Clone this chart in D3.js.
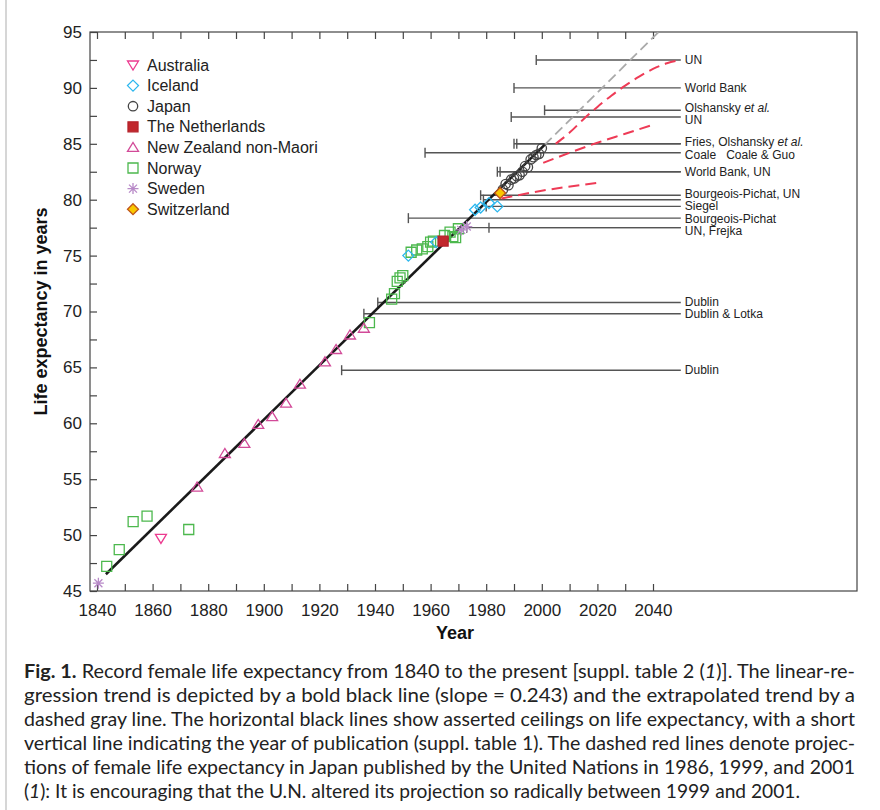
<!DOCTYPE html>
<html>
<head>
<meta charset="utf-8">
<script src="https://cdn.jsdelivr.net/npm/d3@7"></script>
<style>
  body { margin: 0; background: #fff; }
  svg { display: block; }
</style>
</head>
<body>
<div id="grafico"></div>
<script>

// ---- dados (ano, expectativa de vida) ----
const australia = [[1863, 49.7]]
const iceland = [[1952, 75.0], [1962, 76.2], [1976, 79.1], [1978, 79.3], [1981, 79.7], [1984, 79.4]]
const japan = [[1986, 80.9], [1987, 81.4], [1988, 81.3], [1989, 81.8], [1990, 81.9], [1991, 82.1],
               [1992, 82.2], [1993, 82.5], [1994, 83.0], [1995, 82.9], [1996, 83.6], [1997, 83.8],
               [1998, 84.0], [1999, 84.1], [2000, 84.6]]
const netherlands = [[1964.5, 76.3]]
const newZealand = [[1876, 54.3], [1886, 57.3], [1893, 58.2], [1898, 59.9], [1903, 60.6], [1908, 61.8],
                    [1913, 63.5], [1922, 65.5], [1926, 66.6], [1931, 67.9], [1936, 68.5]]
const norway = [[1843.5, 47.2], [1848, 48.7], [1853, 51.2], [1858, 51.7], [1873, 50.5], [1938, 69.0],
                [1946, 71.1], [1947, 71.6], [1948, 72.7], [1949, 73.0], [1950, 73.2],
                [1953, 75.3], [1955, 75.5], [1957, 75.6], [1959, 75.8], [1960, 76.2], [1961, 76.3],
                [1965, 76.8], [1967, 77.1], [1968, 76.7], [1969, 76.6], [1970, 77.4]]
const sweden = [[1840.5, 45.7], [1971, 77.3], [1973, 77.6]]
const switzerland = [[1985, 80.6]]

// tendência linear (reta preta) e extrapolação (cinza tracejada)
const trend = [[1843.2, 46.5], [2001, 84.9]]
const trendExtra = [[2001, 84.9], [2042, 95]]

// projeções da ONU para o Japão (vermelho tracejado)
const un1986 = [[1985.5, 80.1], [2000, 80.8], [2020, 81.5]]
const un1999 = [[2000.5, 83.3], [2010, 84.2], [2020, 85.1], [2030, 85.9], [2040, 86.7]]
const un2001 = [[2005, 85.0], [2010, 86.0], [2015, 87.2], [2020, 88.3], [2025, 89.3],
                [2030, 90.2], [2035, 91.0], [2040, 91.7], [2045, 92.2], [2050, 92.5]]

// tetos afirmados: [ano de publicação, teto]
const ceilingLabels = ['UN', 'World Bank', 'Olshansky et al.', 'UN', 'Fries, Olshansky et al.',
                       'Coale   Coale & Guo', 'World Bank, UN', 'Bourgeois-Pichat, UN', 'Siegel',
                       'Bourgeois-Pichat', 'UN, Frejka', 'Dublin', 'Dublin & Lotka', 'Dublin']
const ceilingLines = [
    [[1998, 92.5]],
    [[1990, 90.0]],
    [[2001, 88.0]],
    [[1989, 87.4]],
    [[1990, 85.0], [1991, 85.0]],
    [[1958, 84.2]],
    [[1984, 82.5], [1985, 82.5]],
    [[1978, 80.4], [1979, 80.0]],
    [[1980, 79.4]],
    [[1952, 78.35]],
    [[1973, 77.5], [1981, 77.5]],
    [[1941, 70.8]],
    [[1936, 69.8]],
    [[1928, 64.75]]
]
const ceilingEnd = 2050

// eixos
const xTicks = d3.range(1840, 2041, 10)
const yTicks = d3.range(45, 95.1, 2.5)

const countries = ['Australia', 'Iceland', 'Japan', 'The Netherlands', 'New Zealand non-Maori',
                   'Norway', 'Sweden', 'Switzerland']
const series = [australia, iceland, japan, netherlands, newZealand, norway, sweden, switzerland]

// ---- estilos dos marcadores ----
const estilos = {
    'Australia': { shape: 'tridown', stroke: '#ec3a8f', fill: 'none' },
    'Iceland': { shape: 'diamond', stroke: '#2cb7ee', fill: 'none' },
    'Japan': { shape: 'circle', stroke: '#444', fill: 'none' },
    'The Netherlands': { shape: 'square', stroke: '#b5222b', fill: '#c1272d' },
    'New Zealand non-Maori': { shape: 'triup', stroke: '#d24a98', fill: 'none' },
    'Norway': { shape: 'square', stroke: '#4cb84d', fill: 'none' },
    'Sweden': { shape: 'asterisk', stroke: '#b88ac8', fill: 'none' },
    'Switzerland': { shape: 'diamond', stroke: '#c0541a', fill: '#f9c800' }
}

function marcador(shape) {
    switch (shape) {
        case 'tridown': return 'M-5.5,-4 L5.5,-4 L0,5 Z'
        case 'triup': return 'M-5.5,4 L5.5,4 L0,-5 Z'
        case 'diamond': return 'M0,-5.5 L5.5,0 L0,5.5 L-5.5,0 Z'
        case 'circle': return 'M4.7,0 A4.7,4.7 0 1,1 -4.7,0 A4.7,4.7 0 1,1 4.7,0 Z'
        case 'square': return 'M-5,-5 L5,-5 L5,5 L-5,5 Z'
        case 'asterisk': return 'M0,-5.5 L0,5.5 M-5.5,0 L5.5,0 M-4,-4 L4,4 M-4,4 L4,-4'
    }
}

// ---- SVG ----
const W = 880, H = 810
const svg = d3.select('#grafico').append('svg')
    .attr('width', W)
    .attr('height', H)
    .style('font-family', '"Liberation Sans", Arial, Helvetica, sans-serif')

// escalas
const x = d3.scaleLinear().domain([1840, 2040]).range([97, 653])
const y = d3.scaleLinear().domain([45, 95]).range([591, 32])
const left = 90, right = 857

// borda da página
svg.append('line')
    .attr('x1', 6).attr('x2', 6).attr('y1', 0).attr('y2', H)
    .attr('stroke', '#c8c8c8').attr('stroke-width', 1.5)

// moldura do gráfico
svg.append('rect')
    .attr('x', left).attr('y', y(95))
    .attr('width', right - left).attr('height', y(45) - y(95))
    .attr('fill', 'none').attr('stroke', '#444').attr('stroke-width', 1.2)

// eixo x (baixo)
svg.append('g')
    .attr('transform', `translate(0, ${y(45)})`)
    .call(d3.axisBottom(x).tickValues(xTicks).tickSize(-7).tickPadding(13)
        .tickFormat(d => d % 20 === 0 ? d : ''))
    .call(g => g.select('.domain').remove())
    .call(g => g.selectAll('line').attr('stroke', '#444').attr('stroke-width', 1.2))
    .call(g => g.selectAll('text').attr('font-size', 17).attr('fill', '#222')
        .attr('font-family', '"Liberation Sans", Arial, sans-serif'))

// eixo x (cima), só os traços
svg.append('g')
    .attr('transform', `translate(0, ${y(95)})`)
    .call(d3.axisTop(x).tickValues(xTicks).tickSize(-7).tickFormat(''))
    .call(g => g.select('.domain').remove())
    .call(g => g.selectAll('line').attr('stroke', '#444').attr('stroke-width', 1.2))

// eixo y
svg.append('g')
    .attr('transform', `translate(${left}, 0)`)
    .call(d3.axisLeft(y).tickValues(yTicks).tickSize(-7).tickPadding(8)
        .tickFormat(d => d % 5 === 0 ? d : ''))
    .call(g => g.select('.domain').remove())
    .call(g => g.selectAll('line').attr('stroke', '#444').attr('stroke-width', 1.2))
    .call(g => g.selectAll('text').attr('font-size', 17).attr('fill', '#222')
        .attr('font-family', '"Liberation Sans", Arial, sans-serif'))

// títulos dos eixos
svg.append('text')
    .attr('x', 455).attr('y', 639)
    .attr('text-anchor', 'middle')
    .attr('font-size', 18).attr('font-weight', 'bold').attr('fill', '#111')
    .text('Year')

svg.append('text')
    .attr('transform', `translate(47, ${y(70)}) rotate(-90)`)
    .attr('text-anchor', 'middle')
    .attr('font-size', 18).attr('font-weight', 'bold').attr('fill', '#111')
    .text('Life expectancy in years')

// ---- tetos ----
const gCeil = svg.append('g')
ceilingLines.forEach(grupo => {
    grupo.forEach(([ano, teto]) => {
        gCeil.append('line')
            .attr('x1', x(ano)).attr('x2', x(ceilingEnd))
            .attr('y1', y(teto)).attr('y2', y(teto))
            .attr('stroke', '#555').attr('stroke-width', 1.4)
        gCeil.append('line')
            .attr('x1', x(ano)).attr('x2', x(ano))
            .attr('y1', y(teto) - 5).attr('y2', y(teto) + 5)
            .attr('stroke', '#555').attr('stroke-width', 1.4)
    })
})

// posições dos rótulos: média do grupo, afastadas para não se sobreporem
let posRotulo = ceilingLines.map(g => y(d3.mean(g, d => d[1])))
const gap = 12.3
for (let it = 0; it < 60; it++) {
    for (let i = 1; i < posRotulo.length; i++) {
        let d = posRotulo[i] - posRotulo[i - 1]
        if (d < gap) {
            let m = (gap - d) / 2
            posRotulo[i - 1] -= m
            posRotulo[i] += m
        }
    }
}

ceilingLabels.forEach((rot, i) => {
    let t = gCeil.append('text')
        .attr('x', x(ceilingEnd) + 4).attr('y', posRotulo[i])
        .attr('dy', '0.35em')
        .style('white-space', 'pre')
        .attr('font-size', 12).attr('fill', '#222')
    let partes = rot.split('et al.')
    t.append('tspan').text(partes[0])
    if (partes.length > 1) t.append('tspan').attr('font-style', 'italic').text('et al.')
})

// ---- linha de tendência ----
const linha = d3.line().x(d => x(d[0])).y(d => y(d[1]))

svg.append('path')
    .datum(trendExtra)
    .attr('d', linha)
    .attr('fill', 'none').attr('stroke', '#aaa')
    .attr('stroke-width', 1.8).attr('stroke-dasharray', '10,5')

svg.append('path')
    .datum(trend)
    .attr('d', linha)
    .attr('fill', 'none').attr('stroke', '#1a1a1a')
    .attr('stroke-width', 2.6)

// ---- marcadores ----
const ordem = [5, 1, 3, 4, 6, 0, 2, 7]
ordem.forEach(i => {
    let est = estilos[countries[i]]
    svg.append('g').selectAll('path')
        .data(series[i])
        .join('path')
        .attr('transform', d => `translate(${x(d[0])}, ${y(d[1])})`)
        .attr('d', marcador(est.shape))
        .attr('fill', est.fill).attr('stroke', est.stroke)
        .attr('stroke-width', 1.3)
})

// ---- projeções ONU ----
const curva = d3.line().x(d => x(d[0])).y(d => y(d[1])).curve(d3.curveMonotoneX)
;[un1986, un1999, un2001].forEach(p => {
    svg.append('path')
        .datum(p)
        .attr('d', curva)
        .attr('fill', 'none').attr('stroke', '#ee3b56')
        .attr('stroke-width', 2).attr('stroke-dasharray', '11,6')
})

// ---- legenda ----
const gLeg = svg.append('g')
countries.forEach((nome, i) => {
    let est = estilos[nome]
    let ly = 65 + i * 20.6
    gLeg.append('path')
        .attr('transform', `translate(133, ${ly})`)
        .attr('d', marcador(est.shape))
        .attr('fill', est.fill).attr('stroke', est.stroke)
        .attr('stroke-width', 1.3)
    gLeg.append('text')
        .attr('x', 147).attr('y', ly).attr('dy', '0.35em')
        .attr('font-size', 16).attr('fill', '#222')
        .text(nome)
})

// ---- legenda da figura ----
const caption = [
    [['b', 'Fig. 1.'], ['', ' Record female life expectancy from 1840 to the present [suppl. table 2 ('], ['i', '1'], ['', ')]. The linear-re-']],
    [['', 'gression trend is depicted by a bold black line (slope = 0.243) and the extrapolated trend by a']],
    [['', 'dashed gray line. The horizontal black lines show asserted ceilings on life expectancy, with a short']],
    [['', 'vertical line indicating the year of publication (suppl. table 1). The dashed red lines denote projec-']],
    [['', 'tions of female life expectancy in Japan published by the United Nations in 1986, 1999, and 2001']],
    [['', '('], ['i', '1'], ['', '): It is encouraging that the U.N. altered its projection so radically between 1999 and 2001.']]
]
const captionWidth = [831, 831, 831, 831, 831, 776]

caption.forEach((partes, i) => {
    let t = svg.append('text')
        .attr('x', 24).attr('y', 678 + i * 24)
        .attr('font-family', 'Lato, "Open Sans", sans-serif')
        .attr('font-size', 19).attr('fill', '#222')
        .attr('textLength', captionWidth[i]).attr('lengthAdjust', 'spacingAndGlyphs')
    partes.forEach(([f, s]) => {
        let sp = t.append('tspan').text(s)
        if (f === 'b') sp.attr('font-weight', 'bold')
        if (f === 'i') sp.attr('font-style', 'italic')
    })
})

</script>
</body>
</html>
